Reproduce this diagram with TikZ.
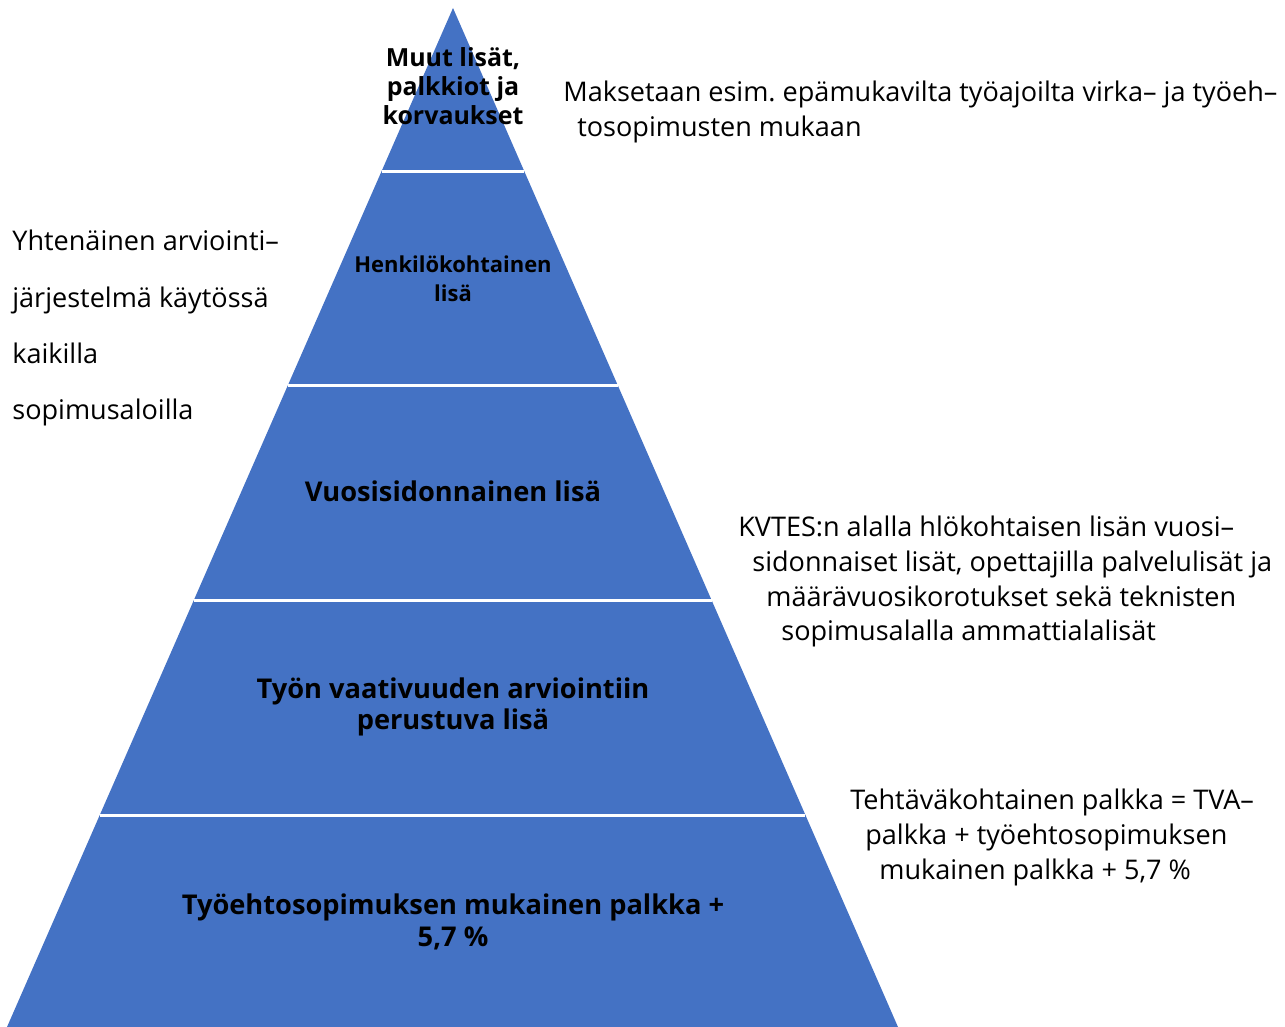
\documentclass[tikz,border=0pt]{standalone}
\usepackage{xcolor}
\usepackage{fontspec}
\setmainfont{Open Sans}
\usetikzlibrary{calc}
\frenchspacing

\definecolor{capa}{HTML}{4472C4}
\tikzset{
  separador/.style={draw=white, line width=0.06cm},
  nivel/.style={align=center, text=black, inner sep=0pt},
  nota/.style={align=left, anchor=north west, inner sep=0pt,
    font=\fontsize{15.4}{19.7}\selectfont},
}

\begin{document}
\begin{tikzpicture}[x=0.02cm, y=-0.02cm]
        % Paso 1: Fija el marco del dibujo
        \useasboundingbox (0,0) rectangle (1285,1027);

        % Paso 2: Define los vértices de la pirámide
        \coordinate (cima) at (453,8);
        \coordinate (izq) at (7,1027);
        \coordinate (der) at (898,1027);

        % Paso 3: Rellena la pirámide
        \fill[capa] (cima) -- (der) -- (izq) -- cycle;

        % Paso 4: Separa los niveles con líneas blancas
        \foreach \t [count=\i] in {0.160,0.370,0.581,0.792}{
          \coordinate (i\i) at ($(cima)!\t!(izq)$);
          \coordinate (d\i) at ($(cima)!\t!(der)$);
          \draw[separador] (i\i) -- (d\i);
        }

        % Paso 5: Escribe el texto de cada nivel
        \node[nivel, font=\bfseries\fontsize{14.2}{16.4}\selectfont] (muut) at (453,86)
          {Muut lisät,\\palkkiot ja\\korvaukset};
        \node[nivel, font=\bfseries\fontsize{12.5}{16.4}\selectfont] (henk) at (453,279)
          {Henkilökohtainen\\lisä};
        \node[nivel, font=\bfseries\fontsize{15.5}{18}\selectfont] (vuosi) at (453,491)
          {Vuosisidonnainen lisä};
        \node[nivel, font=\bfseries\fontsize{15.5}{18}\selectfont] (tva) at (453,707)
          {Työn vaativuuden arviointiin\\perustuva lisä};
        \node[nivel, font=\bfseries\fontsize{15.5}{18}\selectfont] (tes) at (453,922)
          {Työehtosopimuksen mukainen palkka +\\5,7 \%};

        % Paso 6: Escribe las notas de los lados
        \node[nota] (maksetaan) at (563,81)
          {Maksetaan esim. epämukavilta työajoilta virka– ja työeh–\\
           \hspace*{0.28cm}tosopimusten mukaan};
        \node[nota, font=\fontsize{15.4}{32}\selectfont] (yhtenainen) at (12,230)
          {Yhtenäinen arviointi–\\järjestelmä käytössä\\kaikilla\\sopimusaloilla};
        \node[nota] (kvtes) at (738,516)
          {KVTES:n alalla hlökohtaisen lisän vuosi–\\
           \hspace*{0.28cm}sidonnaiset lisät, opettajilla palvelulisät ja\\
           \hspace*{0.56cm}määrävuosikorotukset sekä teknisten\\
           \hspace*{0.86cm}sopimusalalla ammattialalisät};
        \node[nota] (tehtava) at (850,789)
          {Tehtäväkohtainen palkka = TVA–\\
           \hspace*{0.30cm}palkka + työehtosopimuksen\\
           \hspace*{0.58cm}mukainen palkka + 5,7 \%};
\end{tikzpicture}
\end{document}
